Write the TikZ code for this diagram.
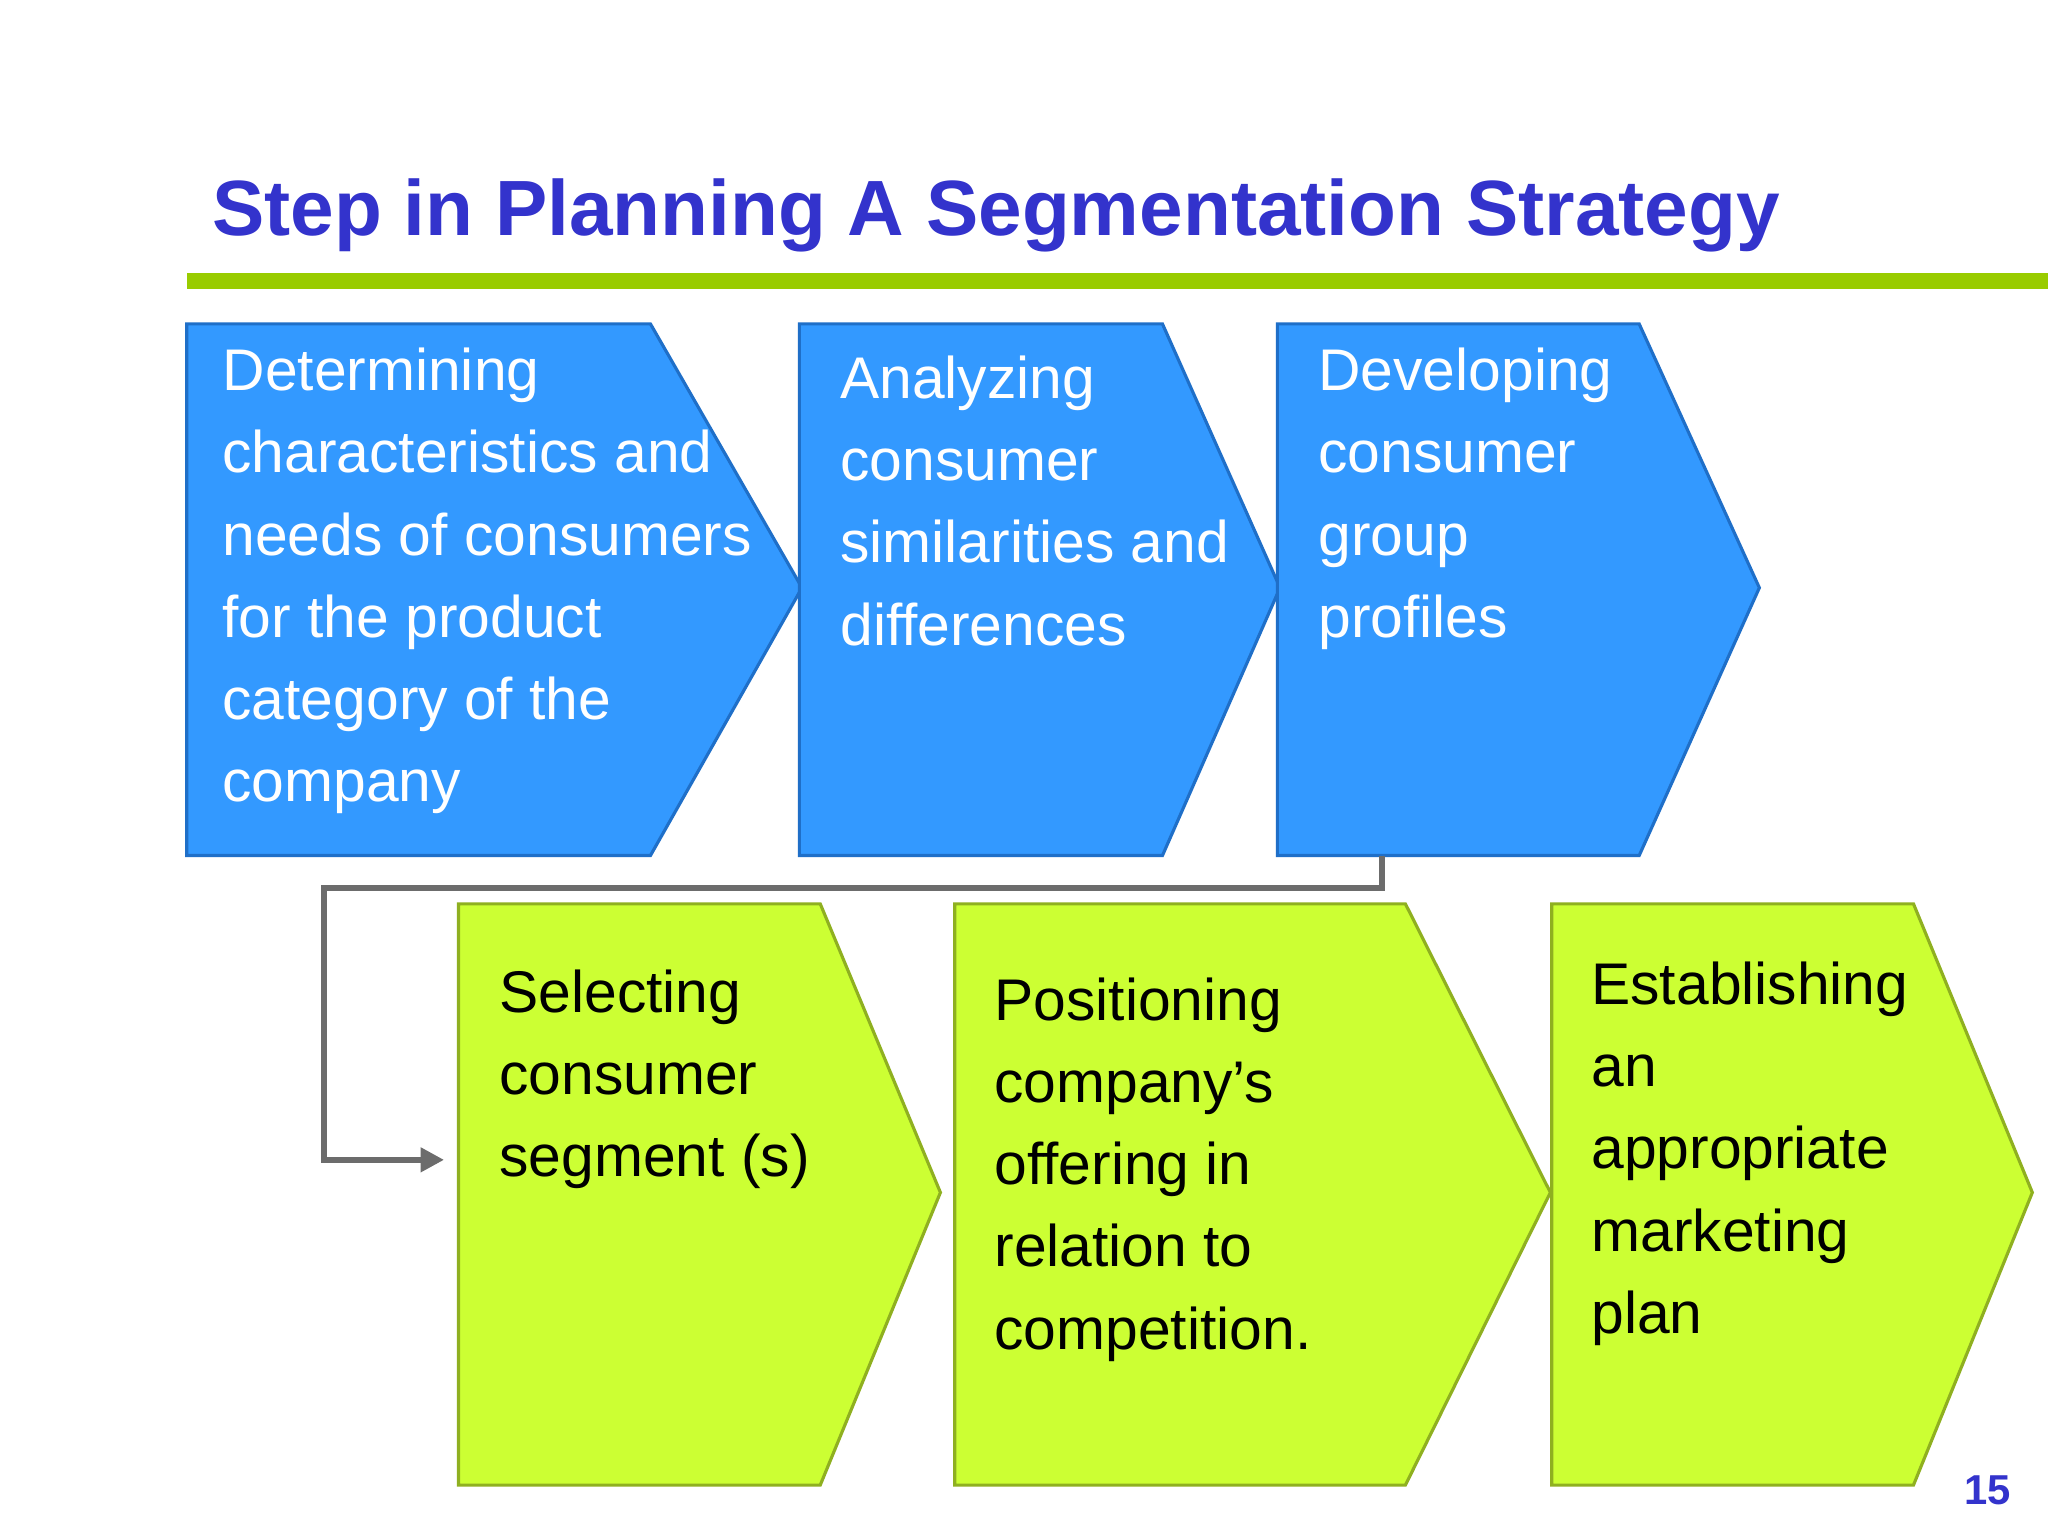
\documentclass[tikz,border=0pt]{standalone}
\usepackage{fontspec}
\setmainfont{Liberation Sans}
\usetikzlibrary{arrows.meta}
\definecolor{bfill}{HTML}{3399FF}
\definecolor{bedge}{HTML}{1F6FC8}
\definecolor{gfill}{HTML}{CCFF33}
\definecolor{gedge}{HTML}{8FB020}
\definecolor{ttl}{HTML}{3333CC}
\definecolor{rule}{HTML}{99CC00}
\tikzset{
 bshape/.style={fill=bfill,draw=bedge,line width=1.2pt},
 gshape/.style={fill=gfill,draw=gedge,line width=1.2pt},
 btxt/.style={anchor=north west,inner sep=0pt,align=left,text=white,font=\fontsize{22.5}{31.5}\selectfont},
 gtxt/.style={anchor=north west,inner sep=0pt,align=left,text=black,font=\fontsize{22.5}{31.5}\selectfont},
 conn/.style={draw=gray!85!black,line width=2.5pt,-{Triangle[length=9pt,width=9pt]}}
}
\begin{document}
\begin{tikzpicture}[x=0.5pt,y=-0.5pt]
\useasboundingbox[fill=white] (0,0) rectangle (1568,1176);
\node[anchor=base west,inner sep=0pt,text=ttl,font=\fontsize{30}{34}\selectfont\bfseries] (title) at (162,180) {Step in Planning A Segmentation Strategy};
\fill[rule] (143,209) rectangle (1568,221);
\draw[bshape] (143,248)--(498,248)--(614,450)--(498,655)--(143,655)--cycle;
\draw[bshape] (612,248)--(890,248)--(980,450)--(890,655)--(612,655)--cycle;
\draw[bshape] (978,248)--(1255,248)--(1347,450)--(1255,655)--(978,655)--cycle;
\draw[gshape] (351,692)--(628,692)--(720,913)--(628,1137)--(351,1137)--cycle;
\draw[gshape] (731,692)--(1076,692)--(1187,913)--(1076,1137)--(731,1137)--cycle;
\draw[gshape] (1188,692)--(1465,692)--(1556,913)--(1465,1137)--(1188,1137)--cycle;
\node[btxt] (b1) at (170,266) {Determining\\characteristics and\\needs of consumers\\for the product\\category of the\\company};
\node[btxt] (b2) at (643,272) {Analyzing\\consumer\\similarities and\\differences};
\node[btxt] (b3) at (1009,266) {Developing\\consumer\\group\\profiles};
\node[gtxt] (g1) at (382,742) {Selecting\\consumer\\segment (s)};
\node[gtxt] (g2) at (761,748) {Positioning\\company’s\\offering in\\relation to\\competition.};
\node[gtxt] (g3) at (1218,736) {Establishing\\an\\appropriate\\marketing\\plan};
\coordinate (s) at (1058,655);
\coordinate (e) at (340,888);
\draw[conn] (s) -- (1058,680) -- (248,680) -- (248,888) -- (e);
\node[anchor=base east,inner sep=0pt,text=ttl,font=\fontsize{16}{18}\selectfont\bfseries] (pg) at (1540,1152) {15};
\end{tikzpicture}
\end{document}
